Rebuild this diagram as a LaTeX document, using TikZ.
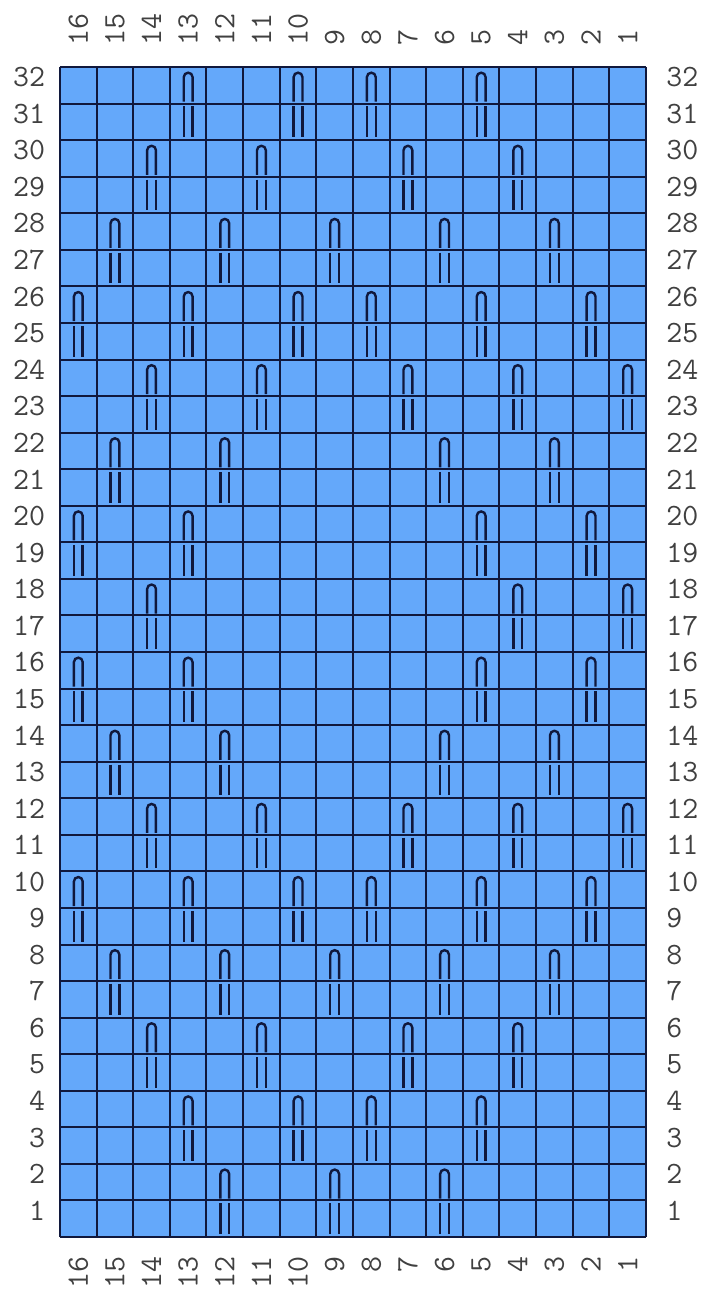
\documentclass[tikz,border=0pt]{standalone}
\usepackage{fontspec}
\usepackage{xcolor}
\usepackage{tikz}
\usetikzlibrary{calc}

\definecolor{chartblue}{RGB}{100,168,250}
\definecolor{chartline}{RGB}{16,24,60}
\definecolor{labelgray}{RGB}{64,64,64}

\tikzset{
  chartgrid/.style={chartline,line width=2pt},
  slip/.style={chartline,line width=2.4pt},
  numlabel/.style={labelgray,inner sep=0pt,font=\ttfamily\fontsize{31}{31}\selectfont},
}

\begin{document}
\begin{tikzpicture}[x=36.625pt,y=36.5625pt]
  \useasboundingbox (-1.638,-1.668) rectangle (17.638,33.833);

  % background of the chart
  \fill[chartblue] (0,0) rectangle (16,32);

  % grid
  \foreach \i in {0,...,16} \draw[chartgrid] (\i,0) -- (\i,32);
  \foreach \j in {0,...,32} \draw[chartgrid] (0,\j) -- (16,\j);

  % elongated slipped stitches, lower row / columns
  \foreach \r/\cols in {1/{12,9,6}, 3/{13,10,8,5}, 5/{14,11,7,4}, 7/{15,12,9,6,3},
      9/{16,13,10,8,5,2}, 11/{14,11,7,4,1}, 13/{15,12,6,3}, 15/{16,13,5,2},
      17/{14,4,1}, 19/{16,13,5,2}, 21/{15,12,6,3}, 23/{14,11,7,4,1},
      25/{16,13,10,8,5,2}, 27/{15,12,9,6,3}, 29/{14,11,7,4}, 31/{13,10,8,5}} {
    \foreach \c in \cols {
      \draw[slip] (16.5-\c-0.12,\r+0.05) -- (16.5-\c-0.12,\r+1-0.155-0.12)
        arc[start angle=180,end angle=0,radius=0.12] -- (16.5-\c+0.12,\r+0.05);
      \draw[slip] (16.5-\c-0.12,\r-0.08) -- (16.5-\c-0.12,\r-1+0.08)
        (16.5-\c+0.12,\r-0.08) -- (16.5-\c+0.12,\r-1+0.08);
    }
  }

  % column numbers
  \foreach \c in {1,...,16} {
    \node[numlabel,rotate=90,anchor=west] (ctop\c) at (16.5-\c,32.58) {\c};
    \node[numlabel,rotate=90,anchor=east] (cbot\c) at (16.5-\c,-0.53) {\c};
  }

  % row numbers
  \foreach \r in {1,...,32} {
    \node[numlabel,anchor=east] (rleft\r) at (-0.4,\r-0.28) {\r};
    \node[numlabel,anchor=west] (rright\r) at (16.55,\r-0.28) {\r};
  }
\end{tikzpicture}
\end{document}
